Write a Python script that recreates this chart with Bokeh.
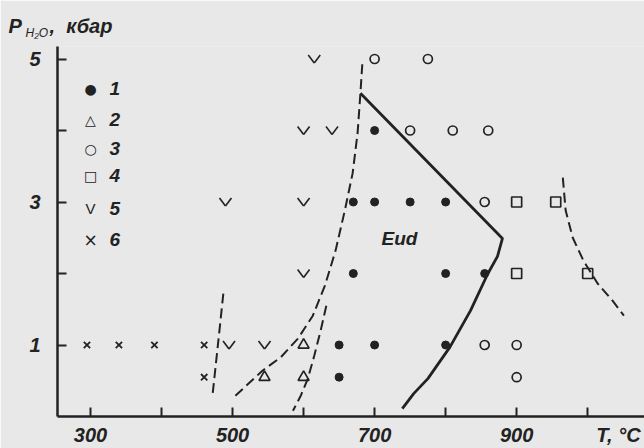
import numpy as np
from bokeh.plotting import figure
from bokeh.models import Label, Range1d, FixedTicker
from bokeh.embed import file_html
from bokeh.resources import INLINE

# Experimental runs: temperature (°C) and water pressure (kbar)
eud_T = [670, 700, 750, 800, 700, 670, 800, 855, 650, 700, 800, 650]      # 1
eud_P = [3, 3, 3, 3, 4, 2, 2, 2, 1, 1, 1, 0.55]
tri_T = [600, 545, 600]                                                    # 2
tri_P = [1, 0.55, 0.55]
open_T = [700, 775, 750, 810, 860, 855, 855, 900, 900]                     # 3
open_P = [5, 5, 4, 4, 4, 3, 1, 1, 0.55]
sq_T = [900, 955, 900, 1000]                                               # 4
sq_P = [3, 3, 2, 2]
v_T = [615, 600, 640, 490, 600, 600, 495, 545]                             # 5
v_P = [5, 4, 4, 3, 3, 2, 1, 1]
x_T = [295, 340, 390, 460, 460]                                            # 6
x_P = [1, 1, 1, 1, 0.55]

# Reaction boundaries
bA_T = [487, 480, 472]
bA_P = [1.72, 1.06, 0.32]
bB_T = [504, 542, 568, 592, 613, 630, 645, 658, 669, 676, 680, 683]
bB_P = [0.29, 0.64, 0.83, 1.09, 1.41, 1.83, 2.32, 2.88, 3.40, 3.96, 4.52, 4.98]
bC_T = [632, 624, 615, 606, 596, 585]
bC_P = [1.55, 1.20, 0.85, 0.53, 0.29, 0.08]
eud_field_T = [680, 880, 873, 859, 835, 806, 775, 755, 739]
eud_field_P = [4.52, 2.49, 2.24, 1.99, 1.48, 0.97, 0.53, 0.32, 0.11]
bD_T = [965, 969, 979, 994, 1014, 1035, 1051]
bD_P = [3.34, 2.88, 2.50, 2.18, 1.86, 1.62, 1.41]

x_minor = [300, 400, 500, 600, 700, 800, 900, 1000]
x_labelled = [300, 500, 700, 900]
y_ticks = [1, 2, 3, 4, 5]
y_labelled = [1, 3, 5]
legend_symbols = ["\u25CF", "\u25B3", "\u25CB", "\u25A1", "V", "\u00D7"]
legend_numbers = ["1", "2", "3", "4", "5", "6"]
x_title = "T, \u00b0C"
y_title_main = "P\u00a0\u00a0\u00a0\u00a0\u00a0,\u00a0\u00a0\u043a\u0431\u0430\u0440"
y_title_sub = "H\u2082O"
field_label = "Eud"

INK = "#222222"
PAPER = "#e8e8e8"
FONT = "Liberation Sans"
SYM_FONT = "DejaVu Sans"
TEXT_STYLE = "bold italic"

W, H = 644, 448
L, R, T, B = 57, 0, 46, 32
X0, X1 = 253.5, 1080.0
Y0, Y1 = 0.0, 5.175
SX = (W - L - R) / (X1 - X0)        # px per °C
SY = (H - T - B) / (Y1 - Y0)        # px per kbar


def tx(px):
    """canvas x pixel -> temperature"""
    return X0 + (px - L) / SX


def py_(py):
    """canvas y pixel -> pressure"""
    return Y0 + ((H - B) - py) / SY


# the x-axis title sits in the tick-label row, near the right end
x_title_at = tx(618)

p = figure(width=W, height=H, output_backend="svg", toolbar_location=None,
           x_range=Range1d(X0, X1), y_range=Range1d(Y0, Y1),
           min_border_left=L, min_border_right=R, min_border_top=T,
           min_border_bottom=B)
p.background_fill_color = PAPER
p.border_fill_color = PAPER
p.outline_line_color = None
p.grid.visible = False

xa, ya = p.xaxis[0], p.yaxis[0]
xa.ticker = FixedTicker(ticks=x_labelled + [x_title_at], minor_ticks=x_minor)
xa.major_label_overrides = {x_title_at: x_title}
xa.major_tick_line_color = None
xa.major_tick_in = 0
xa.major_tick_out = 0
xa.minor_tick_in = 9
xa.minor_tick_out = 0
xa.minor_tick_line_width = 2
xa.minor_tick_line_color = INK
xa.major_label_standoff = 7

ya.ticker = FixedTicker(ticks=y_ticks)
ya.major_label_overrides = {t: (str(t) if t in y_labelled else "") for t in y_ticks}
ya.minor_tick_line_color = None
ya.major_tick_in = 9
ya.major_tick_out = 0
ya.major_tick_line_width = 2
ya.major_tick_line_color = INK
ya.major_label_standoff = 17

for ax in (xa, ya):
    ax.axis_line_width = 2.5
    ax.axis_line_color = INK
    ax.major_label_text_font = FONT
    ax.major_label_text_font_style = TEXT_STYLE
    ax.major_label_text_font_size = "20px"
    ax.major_label_text_color = INK

# boundaries
dash = dict(line_color=INK, line_width=2, line_dash="10 5")
p.line(bA_T, bA_P, **dash)
p.line(bB_T, bB_P, **dash)
p.line(bC_T, bC_P, **dash)
p.line(bD_T, bD_P, **dash)
p.line(eud_field_T, eud_field_P, line_color=INK, line_width=2.8)

# runs
p.scatter(eud_T, eud_P, marker="circle", size=8, fill_color=INK, line_color=INK)
p.scatter(tri_T, tri_P, marker="triangle", size=11, fill_color=None,
          line_color=INK, line_width=1.7)
p.scatter(open_T, open_P, marker="circle", size=9, fill_color=None,
          line_color=INK, line_width=1.7)
p.scatter(sq_T, sq_P, marker="square", size=10, fill_color=None,
          line_color=INK, line_width=1.7)
p.scatter(x_T, x_P, marker="x", size=9, line_color=INK, line_width=1.8)

# "v" marks: two short strokes meeting below each run point
vt, vp = np.array(v_T, float), np.array(v_P, float)
hw, hh = 6 / SX, 4 / SY
p.segment(x0=vt - hw, y0=vp + hh, x1=vt, y1=vp - hh, line_color=INK, line_width=1.6)
p.segment(x0=vt, y0=vp - hh, x1=vt + hw, y1=vp + hh, line_color=INK, line_width=1.6)

p.add_layout(Label(x=tx(381), y=py_(238), text=field_label, text_font=FONT,
                   text_font_style=TEXT_STYLE, text_font_size="19px",
                   text_color=INK, text_baseline="middle"))

# y-axis title above the frame
p.add_layout(Label(x=tx(8), y=py_(25), text=y_title_main, text_font=FONT,
                   text_font_style=TEXT_STYLE, text_font_size="20px",
                   text_color=INK, text_baseline="middle"), "above")
p.add_layout(Label(x=tx(25), y=py_(32.5), text=y_title_sub, text_font=FONT,
                   text_font_style="italic", text_font_size="12px",
                   text_color=INK, text_baseline="middle"), "above")

# key
key_rows = [88, 119, 148, 175, 208, 239]
key_fonts = [SYM_FONT] * 4 + [FONT, SYM_FONT]
key_sizes = ["14px", "14px", "14px", "14px", "15px", "17px"]
for sym, num, yy, ft, sz in zip(legend_symbols, legend_numbers, key_rows,
                                key_fonts, key_sizes):
    p.add_layout(Label(x=tx(90), y=py_(yy), text=sym, text_font=ft,
                       text_font_size=sz, text_color=INK, text_align="center",
                       text_baseline="middle"))
    p.add_layout(Label(x=tx(109), y=py_(yy), text=num, text_font=FONT,
                       text_font_style=TEXT_STYLE, text_font_size="19px",
                       text_color=INK, text_baseline="middle"))

open("out.html", "w").write(file_html(p, INLINE))
